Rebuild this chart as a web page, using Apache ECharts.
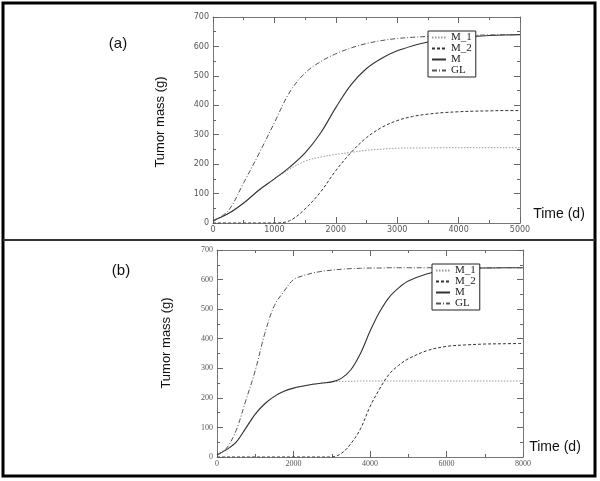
<!DOCTYPE html>
<html><head><meta charset="utf-8">
<script src="https://cdn.jsdelivr.net/npm/echarts@6/dist/echarts.min.js"></script>
<style>html,body{margin:0;padding:0;background:#fff}#c{width:600px;height:481px}</style>
</head><body><div id="c"></div>
<script>
// ---- Panel (a) data ----
const timeA = [0,250,500,750,1000,1250,1500,1750,2000,2250,2500,2750,3000,3250,3500,3750,4000,4250,4500,4750,5000];
const m1A = [8,32,68,112,150,183,210,224,233,240,247,251,254,255,255,256,256,256,256,256,256];
const m2A = [0,0,0,0,0,8,48,105,178,240,290,325,348,362,370,375,378,380,381,382,382];
const mA  = [8,32,68,112,150,190,238,305,392,470,525,560,585,602,615,624,630,634,637,639,640];
const glA = [5,42,137,236,341,445,510,548,575,595,610,620,627,631,634,636,637,638,639,640,640];
// ---- Panel (b) data ----
const timeB = [0,250,500,750,1000,1250,1500,1750,2000,2250,2500,2750,3000,3250,3500,3750,4000,4250,4500,4750,5000,5500,6000,6500,7000,7500,8000];
const m1B = [8,25,50,97,145,180,205,222,233,240,246,250,254,256,256,257,257,257,257,257,257,257,257,257,257,257,257];
const m2B = [0,0,0,0,0,0,0,0,0,0,0,0,0,12,45,95,170,230,280,310,332,360,374,379,382,383,384];
const mB  = [8,25,50,97,145,180,205,222,233,240,246,250,254,266,295,350,425,490,540,572,595,620,633,637,639,640,640];
const glB = [5,30,90,190,292,418,512,560,600,613,622,628,632,635,637,638,639,639,640,640,640,640,640,640,640,640,640];
// ---- axis ticks ----
const yTicks = {min:0, max:700, step:100};
const xTicksA = {min:0, max:5000, step:1000};
const xTicksB = {min:0, max:8000, step:2000};
const names = ['M_1','M_2','M','GL'];

const zip = (t, v) => t.map((x, i) => [x, v[i]]);
const styles = {
  'M_1': {color:'#9a9a9a', type:[1.5,1.5], width:1},
  'M_2': {color:'#333', type:[3,2], width:1},
  'M':   {color:'#333', type:'solid', width:1.1},
  'GL':  {color:'#555', type:[5,2,1,2], width:1}
};
function mkSeries(name, t, v, gi) {
  return {name, type:'line', xAxisIndex: gi*2, yAxisIndex: gi*2, data: zip(t, v),
    showSymbol:false, symbol:'none', smooth:0.35,
    lineStyle: Object.assign({}, styles[name]), itemStyle:{color: styles[name].color},
    z: name==='M_1'?1:2, animation:false};
}
const plain = v => String(v);
function xAxes(gi, tk, ff) {
  const base = {gridIndex: gi, type:'value', min: tk.min, max: tk.max, interval: tk.step,
    axisLine:{show:true, onZero:false, lineStyle:{color:'#777', width:1}},
    axisTick:{show:true, inside:true, length:6, lineStyle:{color:'#666'}},
    minorTick:{show:true, splitNumber:2, length:3, lineStyle:{color:'#666'}},
    splitLine:{show:false}};
  return [
    Object.assign({}, base, {position:'bottom', axisLabel:{show:true, fontSize:8, color:'#555', margin:3, fontFamily: ff, formatter: plain}}),
    Object.assign({}, base, {position:'top', axisLabel:{show:false}})
  ];
}
function yAxes(gi, ff) {
  const base = {gridIndex: gi, type:'value', min: yTicks.min, max: yTicks.max, interval: yTicks.step,
    axisLine:{show:true, onZero:false, lineStyle:{color:'#777', width:1}},
    axisTick:{show:true, inside:true, length:6, lineStyle:{color:'#666'}},
    minorTick:{show:true, splitNumber:2, length:3, lineStyle:{color:'#666'}},
    splitLine:{show:false}};
  return [
    Object.assign({}, base, {position:'left', axisLabel:{show:true, fontSize:8, color:'#555', margin:4, fontFamily: ff, formatter: plain}}),
    Object.assign({}, base, {position:'right', axisLabel:{show:false}})
  ];
}
function mkLegend(left, top) {
  return {orient:'vertical', left, top, data: names, itemWidth:14, itemHeight:8, itemGap:0,
    padding:[1,4,1,3], borderColor:'#222', borderWidth:1, backgroundColor:'#fff',
    itemStyle:{opacity:0},
    textStyle:{fontFamily:'Liberation Serif', fontSize:11, color:'#222', lineHeight:10},
    selectedMode:false, z:10};
}
const chart = echarts.init(document.getElementById('c'), null, {renderer:'canvas'});
const series = [];
names.forEach(n => series.push(mkSeries(n, timeA, {M_1:m1A, M_2:m2A, M:mA, GL:glA}[n], 0)));
names.forEach(n => series.push(mkSeries(n, timeB, {M_1:m1B, M_2:m2B, M:mB, GL:glB}[n], 1)));
chart.setOption({
  animation:false,
  backgroundColor:'#fff',
  grid:[
    {left:213, top:17, width:307, height:206, show:false},
    {left:217, top:250, width:306, height:207, show:false}
  ],
  xAxis: xAxes(0, xTicksA, 'DejaVu Sans').concat(xAxes(1, xTicksB, 'Liberation Serif')),
  yAxis: yAxes(0, 'DejaVu Sans').concat(yAxes(1, 'Liberation Serif')),
  legend:[mkLegend(428, 31), mkLegend(432, 264)],
  series,
  graphic:[
    {type:'rect', shape:{x:3, y:3, width:592, height:473}, style:{fill:'none', stroke:'#000', lineWidth:3}, silent:true},
    {type:'line', shape:{x1:3, y1:240, x2:595, y2:240}, style:{stroke:'#333', lineWidth:2}, silent:true},
    {type:'text', x:118, y:44, style:{text:'(a)', font:'15px "Liberation Sans"', fill:'#111', align:'center', verticalAlign:'middle'}},
    {type:'text', x:121, y:271, style:{text:'(b)', font:'15px "Liberation Sans"', fill:'#111', align:'center', verticalAlign:'middle'}},
    {type:'text', x:160, y:122, rotation:Math.PI/2, style:{text:'Tumor mass (g)', font:'13px "Liberation Sans"', fill:'#111', align:'center', verticalAlign:'middle'}},
    {type:'text', x:166, y:343, rotation:Math.PI/2, style:{text:'Tumor mass (g)', font:'13px "Liberation Sans"', fill:'#111', align:'center', verticalAlign:'middle'}},
    {type:'text', x:559, y:214, style:{text:'Time (d)', font:'14px "Liberation Sans"', fill:'#111', align:'center', verticalAlign:'middle'}},
    {type:'text', x:555, y:447, style:{text:'Time (d)', font:'14px "Liberation Sans"', fill:'#111', align:'center', verticalAlign:'middle'}}
  ]
});
</script></body></html>
